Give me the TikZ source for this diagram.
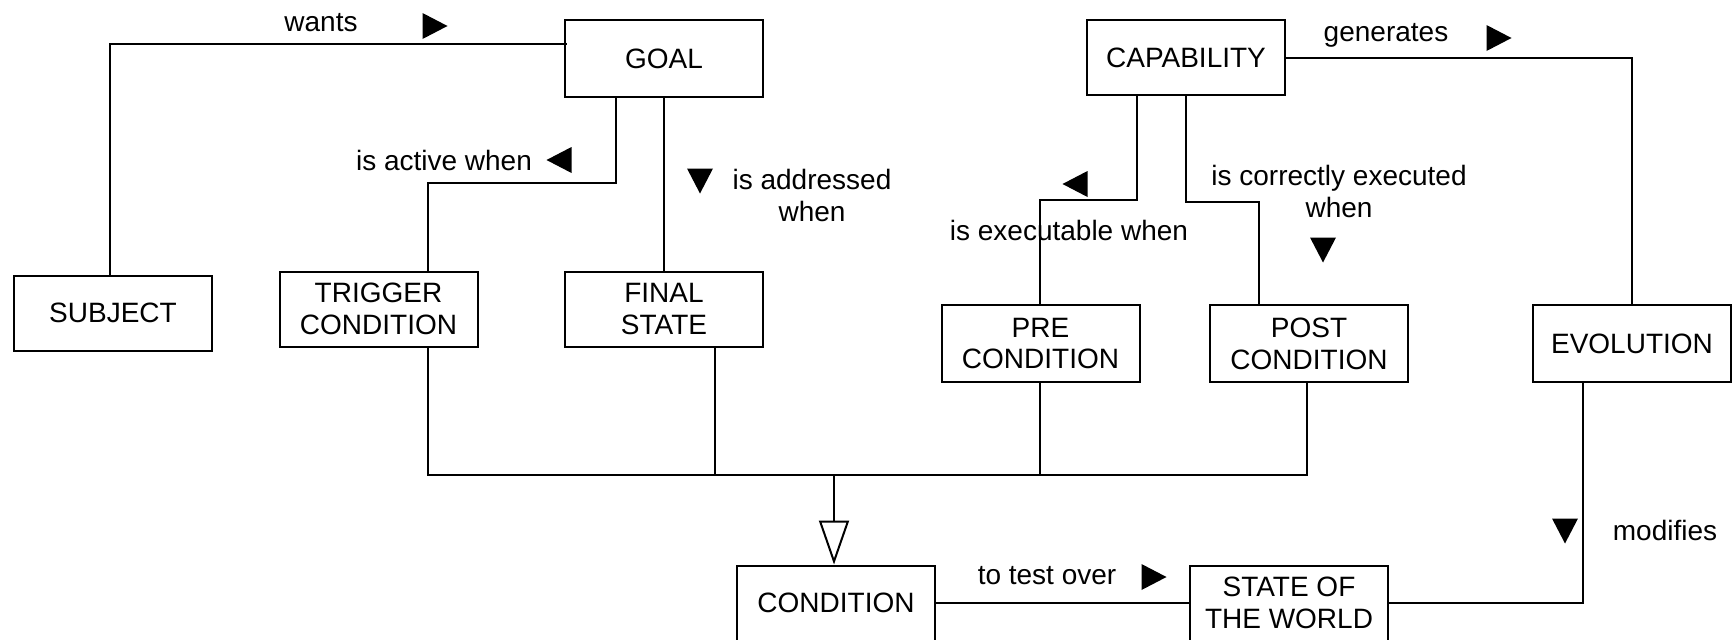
\documentclass[tikz,border=0pt]{standalone}
\usepackage{fontspec}
\setmainfont{Liberation Sans}
\usetikzlibrary{arrows.meta}
\begin{document}
\begin{tikzpicture}[x=1pt,y=-1pt,
  box/.style={draw, line width=2pt, minimum width=198pt, minimum height=75pt, align=center, inner sep=0pt, font=\fontsize{28}{32}\selectfont},
  lbl/.style={align=center, inner sep=0pt, font=\fontsize{28}{32}\selectfont},
  conn/.style={line width=2pt},
  tri/.pic={\fill (-12.5,-13) -- (12.5,0) -- (-12.5,13) -- cycle;}
]
\useasboundingbox (0,0) rectangle (1733,640);

% boxes
\node[box] (SUBJ)  at (113,313)   {SUBJECT};
\node[box, minimum height=77pt] (GOAL) at (664,58.5) {GOAL};
\node[box] (TRIG)  at (378.5,309) {TRIGGER\\CONDITION};
\node[box] (FINAL) at (664,309)   {FINAL\\STATE};
\node[box] (CAP)   at (1186,57.5) {CAPABILITY};
\node[box, minimum height=77pt] (PRE)   at (1040.5,343.5) {PRE\\CONDITION};
\node[box, minimum height=77pt] (POST)  at (1309,343.5)   {POST\\CONDITION};
\node[box, minimum height=77pt] (EVO)   at (1632,343.5)   {EVOLUTION};
\node[box] (COND)  at (836,603)   {CONDITION};
\node[box] (WORLD) at (1289,603)  {STATE OF\\THE WORLD};

% connectors
\draw[conn] ([xshift=-3pt]SUBJ.north) |- ([xshift=3pt,yshift=14.5pt]GOAL.west);
\draw[conn] ([xshift=-48pt]GOAL.south) -- (616,183) -| ([xshift=49.5pt]TRIG.north);
\draw[conn] (GOAL.south) -- (FINAL.north);
\draw[conn] ([xshift=-49pt]CAP.south) -- (1137,200) -| ([xshift=-0.5pt]PRE.north);
\draw[conn] (CAP.south) -- (1186,202) -| ([xshift=-50pt]POST.north);
\draw[conn] (CAP.east) -| (EVO.north);

\coordinate (bus) at (834,475);
\draw[conn] ([xshift=49.5pt]TRIG.south) -- (428,475) -- (1307,475) -- ([xshift=-2pt]POST.south);
\draw[conn] ([xshift=51pt]FINAL.south) -- (715,475);
\draw[conn] ([xshift=-0.5pt]PRE.south) -- (1040,475);
\draw[conn, -{Triangle[open, width=30pt, length=44pt]}] (bus) -- (bus |- COND.north);

\draw[conn] (COND.east) -- (WORLD.west);
\draw[conn] ([xshift=-49pt]EVO.south) |- (WORLD.east);

% labels
\node[lbl] (Lwants) at (321,23) {wants};
\pic at (435,26) {tri};
\node[lbl] (Lactive) at (444,160) {is active when};
\pic[rotate=180] at (559,160) {tri};
\pic[rotate=-90] at (700,181) {tri};
\node[lbl] (Laddr) at (812,195) {is addressed\\when};
\pic[rotate=180] at (1075,184) {tri};
\node[lbl] (Lexec) at (1069,230) {is executable when};
\node[lbl] (Lcorr) at (1339,191) {is correctly executed\\when};
\pic[rotate=-90] at (1323,250) {tri};
\node[lbl] (Lgen) at (1386,35) {generates};
\pic at (1499,38) {tri};
\node[lbl] (Ltest) at (1047,576) {to test over};
\pic at (1154,577) {tri};
\pic[rotate=-90] at (1565,531) {tri};
\node[lbl] (Lmod) at (1665,530) {modifies};
\end{tikzpicture}
\end{document}
